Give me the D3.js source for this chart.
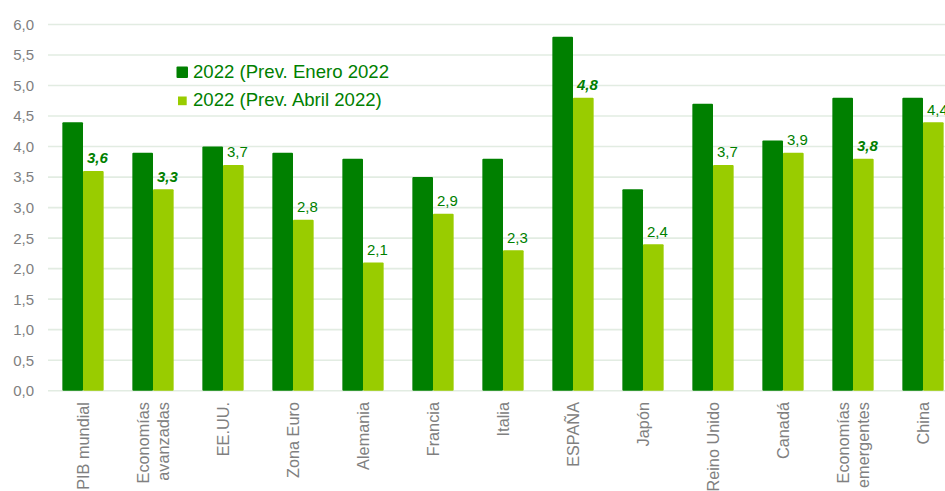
<!DOCTYPE html>
<html><head><meta charset="utf-8">
<script src="https://cdn.jsdelivr.net/npm/d3@7"></script>
<style>body{margin:0;background:#fff;overflow:hidden}svg{display:block;font-family:"Liberation Sans",Arial,sans-serif}</style>
</head><body><svg id="c" width="945" height="491"></svg>
<script>
const categories = [["PIB mundial"],["Economías","avanzadas"],["EE.UU."],["Zona Euro"],["Alemania"],["Francia"],["Italia"],["ESPAÑA"],["Japón"],["Reino Unido"],["Canadá"],["Economías","emergentes"],["China"]];
const enero = [4.4,3.9,4.0,3.9,3.8,3.5,3.8,5.8,3.3,4.7,4.1,4.8,4.8];
const abril = [3.6,3.3,3.7,2.8,2.1,2.9,2.3,4.8,2.4,3.7,3.9,3.8,4.4];
const boldLabels = [true,true,false,false,false,false,false,true,false,false,false,true,false];
const seriesNames = ["2022 (Prev. Enero 2022","2022 (Prev. Abril 2022)"];
const yTicks = [0,0.5,1,1.5,2,2.5,3,3.5,4,4.5,5,5.5,6];

const dark="#008000", light="#99cc00", grey="#808080";
const svg=d3.select("#c");
const x=d3.scaleBand().domain(d3.range(categories.length)).range([48,958]).paddingInner(0.41).paddingOuter(0.205);
const xs=d3.scaleBand().domain([0,1]).range([0,x.bandwidth()]);
const y=d3.scaleLinear().domain([0,6]).range([390.7,24.5]);

svg.append("g").selectAll("line").data(yTicks).join("line")
  .attr("x1",48).attr("x2",945).attr("y1",d=>y(d)).attr("y2",d=>y(d))
  .attr("stroke","#e2ece2").attr("stroke-width",1.6);
svg.append("g").selectAll("text").data(yTicks).join("text")
  .attr("x",34).attr("y",d=>y(d)).attr("dy","0.36em").attr("text-anchor","end")
  .attr("fill",grey).attr("font-size",15).text(d=>d.toFixed(1).replace(".",","));

const g=svg.append("g");
g.selectAll("rect.e").data(enero).join("rect").attr("class","e")
  .attr("x",(d,i)=>x(i)+xs(0)).attr("width",xs.bandwidth()).attr("y",d=>y(d)).attr("height",d=>y(0)-y(d))
  .attr("fill",dark).attr("rx",1);
g.selectAll("rect.a").data(abril).join("rect").attr("class","a")
  .attr("x",(d,i)=>x(i)+xs(1)).attr("width",xs.bandwidth()).attr("y",d=>y(d)).attr("height",d=>y(0)-y(d))
  .attr("fill",light).attr("rx",1);
g.selectAll("text.l").data(abril).join("text").attr("class","l")
  .attr("x",(d,i)=>x(i)+xs(1)+xs.bandwidth()/2+4).attr("y",d=>y(d)-7.5).attr("text-anchor","middle")
  .attr("fill",dark).attr("font-size",15)
  .attr("font-weight",(d,i)=>boldLabels[i]?"bold":"normal").attr("font-style",(d,i)=>boldLabels[i]?"italic":"normal")
  .text(d=>d.toFixed(1).replace(".",","));

const xl=svg.append("g");
categories.forEach((lines,i)=>{
  const cx=x(i)+x.bandwidth()/2;
  const n=lines.length;
  lines.forEach((t,j)=>{
    const off=(j-(n-1)/2)*20.7;
    xl.append("text").attr("transform",`translate(${cx+off},402) rotate(-90)`)
      .attr("text-anchor","end").attr("dy","0.36em").attr("fill",grey).attr("font-size",16.3).text(t);
  });
});

const lg=svg.append("g");
lg.append("rect").attr("x",176.5).attr("y",66.5).attr("width",11.5).attr("height",11.5).attr("fill",dark).attr("rx",1);
lg.append("rect").attr("x",178).attr("y",96.5).attr("width",8.7).attr("height",8.7).attr("fill",light);
lg.selectAll("text").data(seriesNames).join("text").attr("x",193).attr("y",(d,i)=>78+i*27.5)
  .attr("fill",dark).attr("font-size",18.6).text(d=>d);
</script></body></html>
